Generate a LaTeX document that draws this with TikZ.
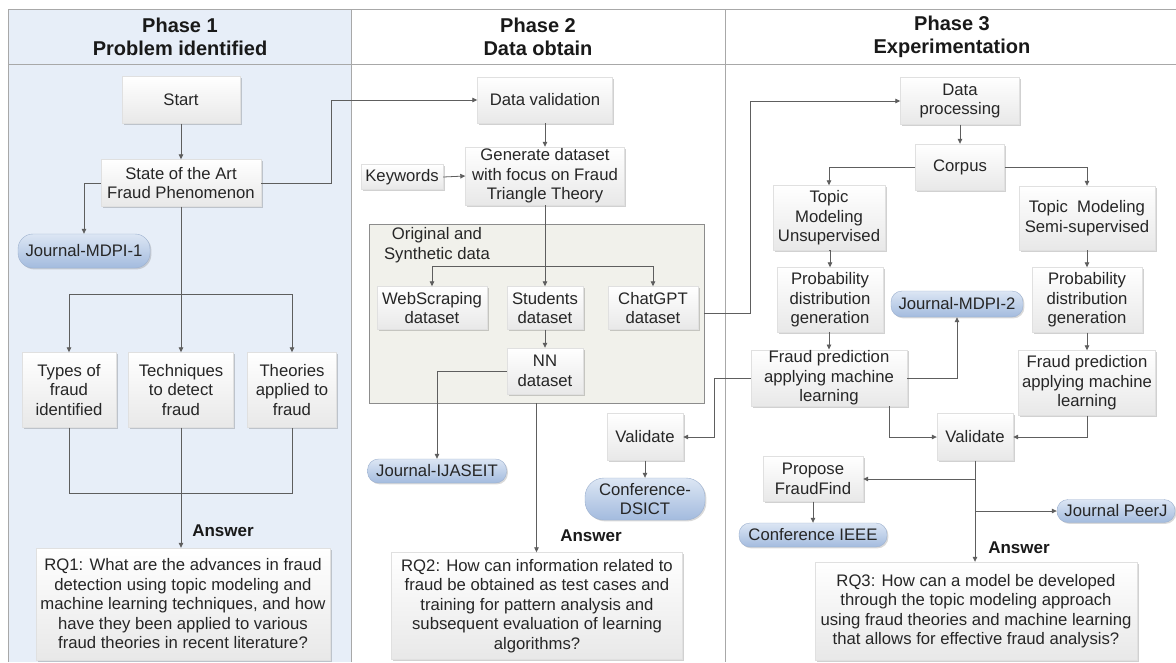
\documentclass[tikz,border=0pt]{standalone}
\usepackage{fontspec}
\setmainfont{Liberation Sans}
\usetikzlibrary{arrows.meta,shadows,calc}
\definecolor{phaseblue}{HTML}{E7EEF8}
\definecolor{framegray}{HTML}{A8A8A8}
\definecolor{linegray}{HTML}{5E5E5E}
\definecolor{groupfill}{HTML}{F1F1EB}
\definecolor{pilltop}{HTML}{DCE6F4}
\definecolor{pillbot}{HTML}{A3BBDE}
\definecolor{pillline}{HTML}{9DB1CF}
\tikzset{
  txt/.style={font=\fontsize{16.7pt}{19.5pt}\selectfont, align=center, text=black!85},
  stepbox/.style={txt, draw=black!12, top color=white, bottom color=black!9,
    inner sep=1pt, drop shadow={shadow xshift=1.6pt, shadow yshift=-1.6pt, fill=black, opacity=0.18}},
  pill/.style={txt, rounded corners=11pt, draw=pillline, top color=pilltop, bottom color=pillbot,
    inner sep=1pt, drop shadow={shadow xshift=1.4pt, shadow yshift=-1.4pt, fill=black, opacity=0.15}},
  groupbox/.style={draw=black!45, fill=groupfill, inner sep=0pt},
  header/.style={font=\fontsize{20pt}{23pt}\selectfont\bfseries, align=center, text=black!90},
  answer/.style={font=\fontsize{17pt}{20pt}\selectfont\bfseries, text=black!90},
  arr/.style={draw=linegray, line width=0.8pt, -{Triangle[length=5pt,width=4.5pt]}},
  conn/.style={draw=linegray, line width=0.8pt},
  frame/.style={draw=framegray, line width=1pt}
}
\begin{document}
\begin{tikzpicture}[x=1pt,y=-1pt]
\useasboundingbox (0,0) rectangle (1176,662);
\fill[white] (0,0) rectangle (1176,662);

% swim-lane background and frame
\fill[phaseblue] (8,9) rectangle (351,662);
\draw[frame] (1176,9) -- (8,9) -- (8,662);
\draw[frame] (8,64) -- (1176,64);
\draw[frame] (351,9) -- (351,662);
\draw[frame] (725,9) -- (725,662);

\node[header] (h1) at (180,37) {Phase 1\\Problem identified};
\node[header] (h2) at (538,37) {Phase 2\\Data obtain};
\node[header] (h3) at (952,37) {Phase 3\\Experimentation};

% ---------------- Phase 1 ----------------
\node[stepbox, minimum width=118, minimum height=47] (start) at (181,100) {Start};
\node[stepbox, minimum width=160, minimum height=47] (soa) at (181,183) {State of the Art\\Fraud Phenomenon};
\node[pill, minimum width=132, minimum height=34, rounded corners=15pt] (mdpi1) at (84,251) {Journal-MDPI-1};
\node[stepbox, minimum width=94, minimum height=75] (types) at (69,390) {Types of\\fraud\\identified};
\node[stepbox, minimum width=105, minimum height=75] (tech) at (181,390) {Techniques\\to detect\\fraud};
\node[stepbox, minimum width=89, minimum height=75] (theo) at (292,390) {Theories\\applied to\\fraud};
\node[answer] (ans1) at (223,531) {Answer};
\node[stepbox, minimum width=294, minimum height=112] (rq1) at (183,604)
  {RQ1: What are the advances in fraud\\detection using topic modeling and\\machine learning techniques, and how\\have they been applied to various\\fraud theories in recent literature?};

\coordinate (bar1) at (181,294);
\draw[arr] (start.south) -- (soa.north);
\draw[arr] (soa.west) -| (mdpi1.north);
\draw[conn] (soa.south) -- (bar1);
\draw[arr] (bar1) -- (tech.north);
\draw[arr] (bar1) -| (types.north);
\draw[arr] (bar1) -| (theo.north);
\draw[conn] (types.south) -- ++(0,66) -| (theo.south);
\draw[arr] (tech.south) -- (tech.south |- rq1.north);

% ---------------- Phase 2 ----------------
\node[stepbox, minimum width=135, minimum height=46] (dval) at (545,100) {Data validation};
\node[stepbox, minimum width=159, minimum height=58] (gen) at (545,176) {Generate dataset\\with focus on Fraud\\Triangle Theory};
\node[stepbox, minimum width=82, minimum height=25] (kw) at (402,177) {Keywords};
\node[groupbox, minimum width=335, minimum height=179] (grp) at (536.5,313.5) {};
\node[txt] (grplbl) at (437,245) {Original and\\Synthetic data};
\node[stepbox, minimum width=110, minimum height=43] (web) at (432,308) {WebScraping\\dataset};
\node[stepbox, minimum width=76, minimum height=43] (stud) at (545,308) {Students\\dataset};
\node[stepbox, minimum width=90, minimum height=43] (chat) at (653,308) {ChatGPT\\dataset};
\node[stepbox, minimum width=76, minimum height=46] (nn) at (545,371) {NN\\dataset};
\node[pill, minimum width=139, minimum height=24] (ijaseit) at (437,471) {Journal-IJASEIT};
\node[stepbox, minimum width=76, minimum height=47] (val2) at (645,437) {Validate};
\node[pill, minimum width=120, minimum height=42, rounded corners=19pt] (dsict) at (645,499) {Conference-\\DSICT};
\node[answer] (ans2) at (591,536) {Answer};
\node[stepbox, minimum width=291, minimum height=107] (rq2) at (537,606)
  {RQ2: How can information related to\\fraud be obtained as test cases and\\training for pattern analysis and\\subsequent evaluation of learning\\algorithms?};

\coordinate (bar2) at (545,266);
\draw[arr] (soa.east) -- ++(70,0) |- (dval.west);
\draw[arr] (dval.south) -- (gen.north);
\draw[arr] (kw.east) -- (gen.west);
\draw[arr] (gen.south) -- (stud.north);
\draw[arr] (bar2) -| (web.north);
\draw[arr] (bar2) -| (chat.north);
\draw[arr] (stud.south) -- (nn.north);
\draw[arr] (nn.west) -| (ijaseit.north);
\draw[arr] (grp.south) -- (grp.south |- rq2.north);
\draw[arr] (val2.south) -- (dsict.north);

% ---------------- Phase 3 ----------------
\node[stepbox, minimum width=119, minimum height=47] (dproc) at (960,101) {Data\\processing};
\node[stepbox, minimum width=89, minimum height=46] (corpus) at (960,167) {Corpus};
\node[stepbox, minimum width=112, minimum height=65] (tmu) at (829,218) {Topic\\Modeling\\Unsupervised};
\node[stepbox, minimum width=136, minimum height=64] (tms) at (1087,218) {Topic\ \ Modeling\\Semi-supervised};
\node[stepbox, minimum width=106, minimum height=65] (prob1) at (830,300) {Probability\\distribution\\generation};
\node[stepbox, minimum width=110, minimum height=65] (prob2) at (1087,300) {Probability\\distribution\\generation};
\node[pill, minimum width=132, minimum height=26] (mdpi2) at (957,304) {Journal-MDPI-2};
\node[stepbox, minimum width=156, minimum height=55] (fp1) at (829,378) {Fraud prediction\\applying machine\\learning};
\node[stepbox, minimum width=137, minimum height=65] (fp2) at (1087,383) {Fraud prediction\\applying machine\\learning};
\node[stepbox, minimum width=76, minimum height=47] (val3) at (975,437) {Validate};
\node[stepbox, minimum width=100, minimum height=45] (prop) at (813,479) {Propose\\FraudFind};
\node[pill, minimum width=148, minimum height=24] (ieee) at (813,535) {Conference IEEE};
\node[pill, minimum width=118, minimum height=23] (peerj) at (1116,511) {Journal PeerJ};
\node[answer] (ans3) at (1019,548) {Answer};
\node[stepbox, minimum width=322, minimum height=98] (rq3) at (976,611)
  {RQ3: How can a model be developed\\through the topic modeling approach\\using fraud theories and machine learning\\that allows for effective fraud analysis?};

\draw[arr] (grp.east) -- ++(46,0) |- (dproc.west);
\draw[arr] (dproc.south) -- (corpus.north);
\draw[arr] (corpus.west) -| (tmu.north);
\draw[arr] (corpus.east) -| (tms.north);
\draw[arr] (tmu.south) -- (prob1.south |- tmu.south) -- (prob1.north);
\draw[arr] (tms.south) -- (prob2.north);
\draw[arr] (prob1.south) -- (prob1.south -| fp1.north) -- (fp1.north);
\draw[arr] (prob2.south) -- (fp2.north);
\draw[arr] (fp1.east) -| (mdpi2.south);
\draw[arr] (fp1.west) -- ++(-36,0) |- (val2.east);
\draw[arr] ([xshift=60pt]fp1.south) |- (val3.west);
\draw[arr] (fp2.south) |- (val3.east);
\draw[arr] (val3.south) -- (val3.south |- rq3.north);
\draw[arr] (val3.south |- prop.east) -- (prop.east);
\draw[arr] (val3.south |- peerj.west) -- (peerj.west);
\draw[arr] (prop.south) -- (ieee.north);
\end{tikzpicture}
\end{document}
